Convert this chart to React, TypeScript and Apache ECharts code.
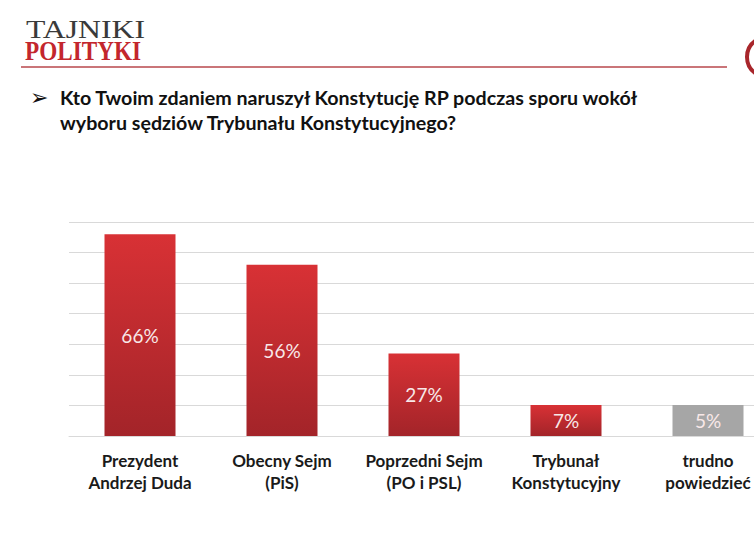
import React, { useEffect, useRef } from "react";
import * as echarts from "echarts";

const categories = [
  "Prezydent\nAndrzej Duda",
  "Obecny Sejm\n(PiS)",
  "Poprzedni Sejm\n(PO i PSL)",
  "Trybunał\nKonstytucyjny",
  "trudno\npowiedzieć",
];
const values = [66, 56, 27, 7, 5];
const isNeutral = [false, false, false, false, true];
const titleLines = [
  "Kto Twoim zdaniem naruszył Konstytucję RP podczas sporu wokół",
  "wyboru sędziów Trybunału Konstytucyjnego?",
];
const yTicks = { min: 0, max: 70, interval: 10 };

export default function App() {
  const ref = useRef<HTMLDivElement>(null);
  useEffect(() => {
    if (!ref.current) return;
    const chart = echarts.init(ref.current, null, { renderer: "svg" });
    const redGrad = new echarts.graphic.LinearGradient(0, 0, 0, 1, [
      { offset: 0, color: "#d83135" },
      { offset: 1, color: "#a32429" },
    ]);
    chart.setOption({
      animation: false,
      backgroundColor: "#ffffff",
      grid: { left: 69, width: 710, top: 222, bottom: 114 },
      xAxis: {
        type: "category",
        data: categories,
        axisLine: { show: true, lineStyle: { color: "#d9d9d9", width: 1 } },
        axisTick: { show: false },
        axisLabel: {
          interval: 0,
          margin: 13,
          color: "#1a1a1a",
          fontFamily: "Lato",
          fontWeight: "bold",
          fontSize: 17,
          lineHeight: 22,
        },
      },
      yAxis: {
        type: "value",
        min: yTicks.min,
        max: yTicks.max,
        interval: yTicks.interval,
        axisLabel: { show: false },
        axisLine: { show: false },
        axisTick: { show: false },
        splitLine: { lineStyle: { color: "#d9d9d9", width: 1 } },
      },
      series: [
        {
          type: "bar",
          barWidth: 71,
          barMinHeight: 31,
          data: values.map((v, i) => ({
            value: v,
            itemStyle: { color: isNeutral[i] ? "#a6a6a6" : redGrad },
          })),
          label: {
            show: true,
            position: "inside",
            formatter: "{c}%",
            color: "#f8e8e8",
            fontFamily: "Lato",
            fontSize: 19,
          },
        },
      ],
      graphic: [
        {
          type: "text",
          x: 26,
          y: 30,
          scaleX: 1.27,
          style: {
            text: "TAJNIKI",
            font: "25px 'Liberation Serif'",
            fill: "#3a3a3a",
            verticalAlign: "middle",
          },
        },
        {
          type: "text",
          x: 25,
          y: 51,
          scaleX: 0.86,
          style: {
            text: "POLITYKI",
            font: "bold 27px 'Liberation Serif'",
            fill: "#c3262d",
            verticalAlign: "middle",
          },
        },
        {
          type: "line",
          shape: { x1: 21, y1: 67, x2: 727, y2: 67 },
          style: { stroke: "#b8474d", lineWidth: 1.5 },
        },
        {
          type: "circle",
          shape: { cx: 767, cy: 57, r: 20 },
          style: { fill: "none", stroke: "#a8262b", lineWidth: 4 },
        },
        {
          type: "text",
          x: 30,
          y: 97,
          style: {
            text: "➢",
            font: "22px 'DejaVu Sans'",
            fill: "#111111",
            verticalAlign: "middle",
          },
        },
        {
          type: "text",
          x: 60,
          y: 98,
          scaleX: 1.035,
          style: {
            text: titleLines[0],
            font: "bold 19px Lato",
            fill: "#111111",
            verticalAlign: "middle",
          },
        },
        {
          type: "text",
          x: 60,
          y: 123,
          scaleX: 1.035,
          style: {
            text: titleLines[1],
            font: "bold 19px Lato",
            fill: "#111111",
            verticalAlign: "middle",
          },
        },
      ],
    });
    return () => chart.dispose();
  }, []);
  return (
    <div
      style={{
        position: "absolute",
        left: 0,
        top: 0,
        width: 754,
        height: 550,
        overflow: "hidden",
        background: "#fff",
      }}
    >
      <div ref={ref} style={{ width: 800, height: 550 }} />
    </div>
  );
}
